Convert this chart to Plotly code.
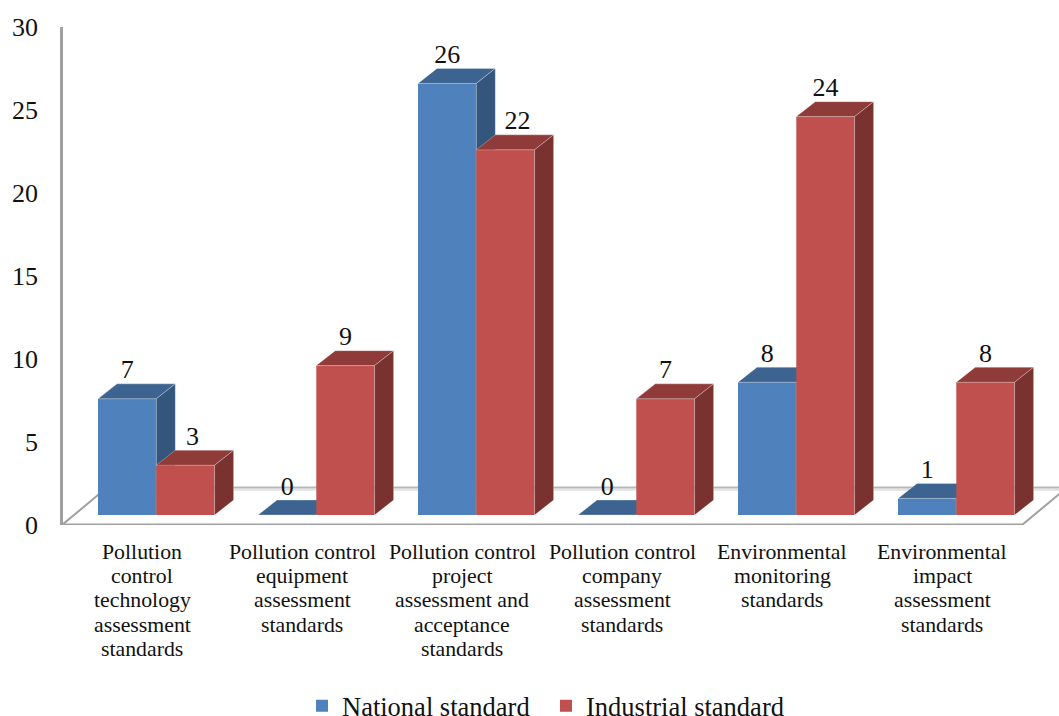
import plotly.graph_objects as go

# Chart data
category_lines = [
    ["Pollution", "control", "technology", "assessment", "standards"],
    ["Pollution control", "equipment", "assessment", "standards"],
    ["Pollution control", "project", "assessment and", "acceptance", "standards"],
    ["Pollution control", "company", "assessment", "standards"],
    ["Environmental", "monitoring", "standards"],
    ["Environmental", "impact", "assessment", "standards"],
]
national = [7, 0, 26, 0, 8, 1]
industrial = [3, 9, 22, 7, 24, 8]
y_ticks = [0, 5, 10, 15, 20, 25, 30]

# Page and plot box, in pixels
WIDTH, HEIGHT = 1059, 716
LEFT, TOP, BOTTOM_PX = 63, 26.5, 525.5
PX_X = 160.0                         # pixels per category slot
PX_Y = (BOTTOM_PX - TOP) / 30.0      # pixels per unit of value

# Oblique projection of the bars, in axis units
BAR_W = 58.3 / PX_X
BAR_BASE = 10 / PX_Y
DEPTH_X, DEPTH_Y = 19 / PX_X, 15 / PX_Y
FLOOR_X, FLOOR_Y = 45 / PX_X, 37.5 / PX_Y
NAT_OFFSET, IND_OFFSET = -0.275, -0.275 + BAR_W
X_START = -0.5
X_RANGE = [X_START + 1 / PX_X, X_START + (WIDTH - 62) / PX_X]

SERIF = "Liberation Serif"
TEXT = "#111111"
GREY = "#a0a0a0"
PALE = "#e2e2e2"
EDGE = "rgba(255,255,255,0.28)"

# Sideways nudges of two value labels, in pixels, so they clear the neighbouring bar
label_shift = {(1, 0): 7, (1, 2): 12}


def faces(values, offset):
    """Outline paths of the top and side faces of each bar."""
    tx, ty, sx, sy = [], [], [], []
    for i, v in enumerate(values):
        l, r = i + offset, i + offset + BAR_W
        t = BAR_BASE + v
        tx += [l, r, r + DEPTH_X, l + DEPTH_X, l, None]
        ty += [t, t, t + DEPTH_Y, t + DEPTH_Y, t, None]
        sx += [r, r + DEPTH_X, r + DEPTH_X, r, r, None]
        sy += [BAR_BASE, BAR_BASE + DEPTH_Y, t + DEPTH_Y, t, BAR_BASE, None]
    return tx, ty, sx, sy


def face_trace(x, y, color, xa, ya):
    return go.Scatter(x=x, y=y, mode="lines", fill="toself", fillcolor=color,
                      line=dict(width=1, color=EDGE), hoverinfo="skip",
                      showlegend=False, xaxis=xa, yaxis=ya)


def floor_line(x, y, color, width):
    return go.Scatter(x=x, y=y, mode="lines", line=dict(color=color, width=width),
                      hoverinfo="skip", showlegend=False, xaxis="x", yaxis="y")


fig = go.Figure()

# Floor of the 3D box: pale shadow line first, then the grey edges
s = 2.2 / PX_Y
fig.add_trace(floor_line([X_START, 5.5], [0.02, 0.02], GREY, 2.5))
fig.add_trace(floor_line([X_START + FLOOR_X, X_RANGE[1]], [FLOOR_Y - s, FLOOR_Y - s], PALE, 2))
fig.add_trace(floor_line([X_START + FLOOR_X, X_RANGE[1]], [FLOOR_Y, FLOOR_Y], "#b8b8b8", 2))
fig.add_trace(floor_line([X_START, X_START + FLOOR_X], [0, FLOOR_Y], GREY, 2))
fig.add_trace(floor_line([5.5, 5.5 + FLOOR_X], [0, FLOOR_Y], GREY, 2))

# Each series lives on its own overlaid axes so the red bars sit above the blue ones
series = [
    ("National standard", national, NAT_OFFSET, "#4f81bd", "#3d6491", "#34557c", "x2", "y2"),
    ("Industrial standard", industrial, IND_OFFSET, "#c0504d", "#8f3b39", "#7a3230", "x3", "y3"),
]
for name, values, offset, front, top, side, xa, ya in series:
    fig.add_trace(go.Bar(name=name, x=list(range(len(values))), y=values,
                         base=BAR_BASE, width=BAR_W, offset=offset,
                         marker=dict(color=front, line=dict(width=0)),
                         xaxis=xa, yaxis=ya))
    tx, ty, sx, sy = faces(values, offset)
    fig.add_trace(face_trace(tx, ty, top, xa, ya))
    fig.add_trace(face_trace(sx, sy, side, xa, ya))

# Value labels above the front face of each bar
LABEL_GAP = 27 / PX_Y
for s_idx, (values, offset) in enumerate(((national, NAT_OFFSET), (industrial, IND_OFFSET))):
    fig.add_trace(go.Scatter(
        x=[i + offset + BAR_W / 2 + label_shift.get((s_idx, i), 0) / PX_X
           for i in range(len(values))],
        y=[BAR_BASE + v + LABEL_GAP for v in values],
        mode="text", text=[str(v) for v in values], textposition="middle center",
        textfont=dict(family=SERIF, size=26, color=TEXT),
        hoverinfo="skip", showlegend=False, xaxis="x3", yaxis="y3"))

# Category labels, one annotation per line for tight leading
annotations = []
for i, lines in enumerate(category_lines):
    for j, line in enumerate(lines):
        annotations.append(dict(
            x=i, xref="x", y=0, yref="paper", yanchor="middle", xanchor="center",
            yshift=-(26.5 + 24.4 * j), text=line, showarrow=False,
            font=dict(family=SERIF, size=21.8, color=TEXT)))

axis_x = dict(range=X_RANGE, showgrid=False, zeroline=False, showline=False,
              showticklabels=False, ticks="")
axis_y = dict(range=[0, 30], showgrid=False, zeroline=False, showticklabels=False, ticks="")

fig.update_layout(
    width=WIDTH, height=HEIGHT,
    paper_bgcolor="white", plot_bgcolor="white",
    margin=dict(l=LEFT, r=0, t=TOP, b=HEIGHT - BOTTOM_PX, pad=0, autoexpand=False),
    barmode="overlay",
    xaxis=axis_x,
    xaxis2=dict(axis_x, overlaying="x", anchor="y2"),
    xaxis3=dict(axis_x, overlaying="x", anchor="y3"),
    yaxis=dict(axis_y, tickvals=y_ticks, showticklabels=True,
               showline=True, linecolor=GREY, linewidth=2.5,
               ticklabelstandoff=17,
               tickfont=dict(family=SERIF, size=26, color=TEXT)),
    yaxis2=dict(axis_y, overlaying="y", anchor="x2"),
    yaxis3=dict(axis_y, overlaying="y", anchor="x3"),
    legend=dict(orientation="h", x=(302 - LEFT) / (WIDTH - LEFT), xanchor="left",
                y=(BOTTOM_PX - 707) / (BOTTOM_PX - TOP), yanchor="middle",
                entrywidth=199, entrywidthmode="pixels",
                font=dict(family=SERIF, size=26.5, color=TEXT),
                bgcolor="rgba(0,0,0,0)", traceorder="normal"),
    annotations=annotations,
    font=dict(family=SERIF),
)

fig.write_html("out.html", config=dict(displayModeBar=False))
